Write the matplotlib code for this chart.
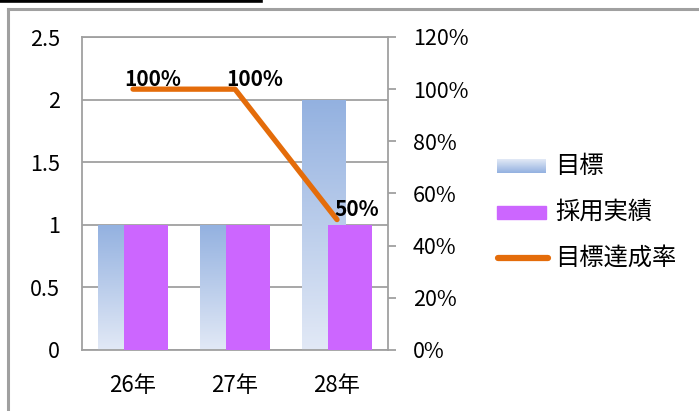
import matplotlib
matplotlib.use("Agg")
import matplotlib.pyplot as plt
import numpy as np
from matplotlib.patches import Rectangle
from matplotlib.lines import Line2D
from matplotlib.colors import LinearSegmentedColormap

plt.rcParams['font.family'] = ['Noto Sans CJK JP', 'DejaVu Sans']

categories = ['26年', '27年', '28年']
target = [1, 1, 2]
actual = [1, 1, 1]
rate = [1.0, 1.0, 0.5]
rate_labels = ['100%', '100%', '50%']
left_ticks = [0, 0.5, 1, 1.5, 2, 2.5]
left_tick_labels = ['0', '0.5', '1', '1.5', '2', '2.5']
right_ticks = [0, 0.2, 0.4, 0.6, 0.8, 1.0, 1.2]
right_tick_labels = ['0%', '20%', '40%', '60%', '80%', '100%', '120%']
legend_labels = ['目標', '採用実績', '目標達成率']

W, H = 699, 411
fig = plt.figure(figsize=(W / 100, H / 100), dpi=100)
fig.patch.set_facecolor('white')

def fx(px):
    return px / W

def fy(py):
    return 1 - py / H

gray = '#a0a0a0'
blue_top = '#93b1e0'
blue_bot = '#e2e9f6'
purple = '#cc66ff'
orange = '#e46c0a'
grad = LinearSegmentedColormap.from_list('g', [blue_bot, blue_top])

# outer frame
fig.add_artist(Line2D([fx(8), fx(8)], [fy(9), 0], color=gray, lw=2.2, transform=fig.transFigure))
fig.add_artist(Line2D([fx(8), 1], [fy(9), fy(9)], color=gray, lw=2.2, transform=fig.transFigure))
fig.add_artist(Line2D([0, fx(261)], [fy(1), fy(1)], color='black', lw=2.6, transform=fig.transFigure))

ax = fig.add_axes([fx(82), fy(350), fx(388 - 82), (350 - 37) / H])
x = np.arange(len(categories))
bw = 44 / 102
off = 13 / 102

bars_t = ax.bar(x - off, target, width=bw, color='none', zorder=2)
for b in bars_t:
    x0, y0 = b.get_x(), b.get_y()
    w, h = b.get_width(), b.get_height()
    im = ax.imshow(np.linspace(0, 1, 256).reshape(-1, 1), cmap=grad, origin='lower',
                   extent=[x0, x0 + w, y0, y0 + h], aspect='auto', zorder=2)
    im.set_clip_path(b)
ax.bar(x + off, actual, width=bw, color=purple, zorder=3)

ax.set_xlim(-0.5, 2.5)
ax.set_ylim(0, 2.5)
ax.set_yticks(left_ticks)
ax.set_yticklabels(left_tick_labels)
ax.set_xticks(x)
ax.set_xticklabels(categories)
ax.yaxis.grid(True, color=gray, lw=1.3, zorder=1)
ax.set_axisbelow(True)
for s in ['left', 'right', 'top', 'bottom']:
    ax.spines[s].set_color(gray)
    ax.spines[s].set_linewidth(1.3)
ax.tick_params(axis='y', length=0, pad=16, labelsize=15.5)
ax.tick_params(axis='x', length=0, pad=17, labelsize=16)

ax2 = ax.twinx()
ax2.set_ylim(0, 1.2)
ax2.set_yticks(right_ticks)
ax2.set_yticklabels(right_tick_labels)
ax2.tick_params(axis='y', length=6, width=1.3, color=gray, pad=12, labelsize=15.5)
for s in ['left', 'right', 'top', 'bottom']:
    ax2.spines[s].set_visible(False)
ax2.plot(x, rate, color=orange, lw=3.8, solid_capstyle='round', solid_joinstyle='round', zorder=4)
for xi, r, lab in zip(x, rate, rate_labels):
    ax2.annotate(lab, (xi, r), xytext=(20, 10), textcoords='offset pixels',
                 ha='center', va='center', fontsize=15, fontweight='bold', zorder=5)

# legend
lax = fig.add_axes([0, 0, 1, 1], facecolor='none')
lax.axis('off')
lax.imshow(np.linspace(0, 1, 64).reshape(-1, 1), cmap=grad, origin='upper',
           extent=[497, 546, 173, 159], aspect='auto')
lax.set_xlim(0, W)
lax.set_ylim(H, 0)
lax.add_patch(Rectangle((497, 206), 49, 13, color=purple))
lax.plot([498, 548], [258, 258], color=orange, lw=4.5, solid_capstyle='round')
for ty, lab in zip([166, 212, 258], legend_labels):
    lax.text(555, ty, lab, va='center', ha='left', fontsize=17.5)

fig.savefig('out.png', dpi=100)
